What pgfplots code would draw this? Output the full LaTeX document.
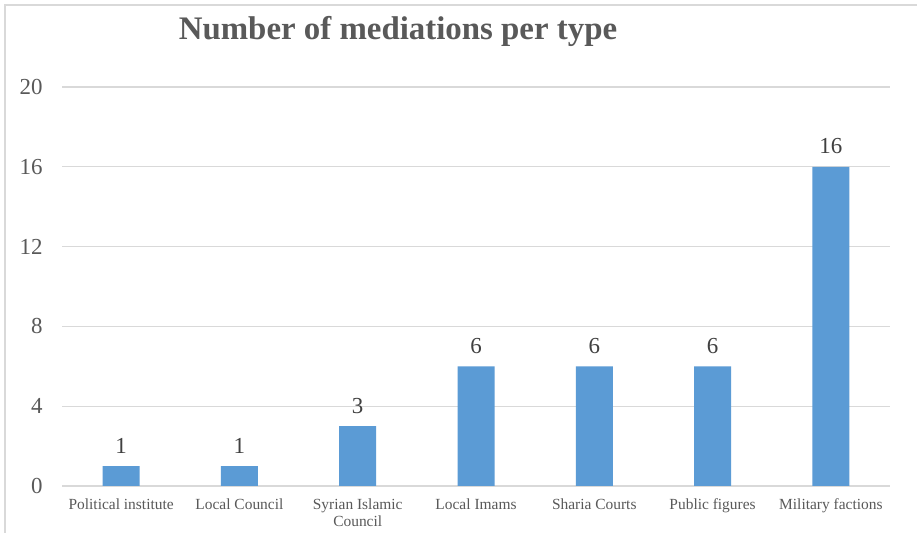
\documentclass[border=0pt]{standalone}
\usepackage{pgfplots}
\pgfplotsset{compat=1.18}
\usepackage{fontspec}
\setmainfont{Liberation Serif}
\definecolor{barblue}{HTML}{5B9BD5}
\definecolor{txtgray}{HTML}{595959}
\definecolor{lblgray}{HTML}{404040}
\definecolor{gridgray}{HTML}{D9D9D9}
\begin{document}
\begin{tikzpicture}[x=1bp,y=1bp]
\path[use as bounding box] (0,0) rectangle (917,533);
\fill[white] (0,0) rectangle (917,533);
\draw[gridgray, line width=1.2bp] (5,0) -- (5,528) -- (917,528);
\begin{axis}[
  at={(62bp,47bp)}, anchor=south west,
  scale only axis, width=828bp, height=399bp,
  xmin=-0.5, xmax=6.5, ymin=0, ymax=20,
  enlargelimits=false,
  axis lines*=left,
  x axis line style={gridgray, line width=1.5bp, -},
  y axis line style={draw=none},
  ytick={0,4,8,12,16,20},
  ymajorgrids, grid style={gridgray, line width=1.2bp},
  xtick=data,
  xticklabels={Political institute, Local Council, {Syrian Islamic\\Council}, Local Imams, Sharia Courts, Public figures, Military factions},
  xticklabel style={font=\fontsize{15.5}{17}\selectfont, text=txtgray, align=center, anchor=north, yshift=-9bp},
  yticklabel style={font=\fontsize{23}{25}\selectfont, text=txtgray, anchor=east, xshift=-16bp},
  xtick style={draw=none},
  ytick style={draw=none},
  /pgf/number format/assume math mode=true,
]
\addplot[ybar, bar width=37bp, fill=barblue, draw=none,
  nodes near coords,
  every node near coord/.append style={font=\fontsize{23}{26}\selectfont, text=lblgray, anchor=base, yshift=13bp}]
  coordinates {(0,1) (1,1) (2,3) (3,6) (4,6) (5,6) (6,16)};
\end{axis}
\node[anchor=base, text=txtgray, font=\fontsize{33}{36}\selectfont\bfseries] at (398,493) {Number of mediations per type};
\end{tikzpicture}
\end{document}
